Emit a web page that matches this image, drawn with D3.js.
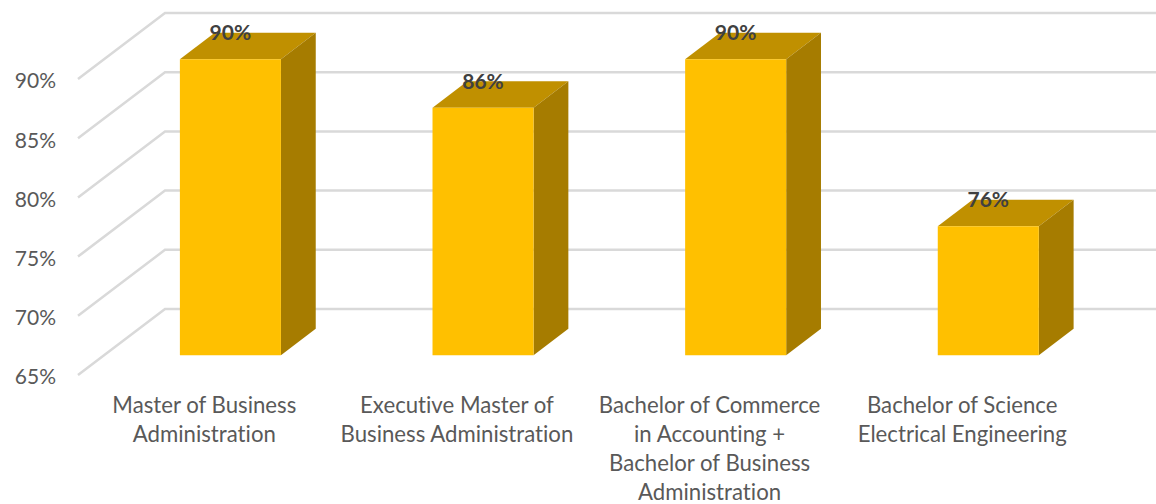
<!DOCTYPE html>
<html>
<head>
<meta charset="utf-8">
<script src="https://cdn.jsdelivr.net/npm/d3@7"></script>
<style>
  html, body { margin: 0; padding: 0; background: #fff; overflow: hidden; }
  text { font-family: Lato, "Open Sans", sans-serif; font-variant-ligatures: none; }
</style>
</head>
<body>
<script>
var categories = [
  "Master of Business Administration",
  "Executive Master of Business Administration",
  "Bachelor of Commerce in Accounting + Bachelor of Business Administration",
  "Bachelor of Science Electrical Engineering"
];
var categoryLines = [
  ["Master of Business", "Administration"],
  ["Executive Master of", "Business Administration"],
  ["Bachelor of Commerce", "in Accounting +", "Bachelor of Business", "Administration"],
  ["Bachelor of Science", "Electrical Engineering"]
];
var values = [90, 85.9, 90, 75.9];
var yTicks = [65, 70, 75, 80, 85, 90];

var width = 1156;
var height = 504;

// chart depth, the back wall sits up and to the right of the front plane
var depthX = 87;
var depthY = -66;
var barFront = 0.3;
var barBack = 0.7;

var x = d3.scaleBand().domain(categories).range([78, 1088.5]).paddingInner(0.6).paddingOuter(0.3);
var y = d3.scaleLinear().domain([65, 90]).range([375, 79]);

function project(px, py, t) {
  return [px + depthX * t, py + depthY * t];
}

function poly(points) {
  return points.map(function(p) { return p.join(","); }).join(" ");
}

var svg = d3.select("body").append("svg")
  .attr("width", width)
  .attr("height", height)
  .style("display", "block");

// gridlines, back wall + left wall
var grid = svg.append("g").attr("fill", "none").attr("stroke", "#D9D9D9").attr("stroke-width", 2.5);
grid.selectAll("polyline").data(yTicks).join("polyline")
  .attr("points", function(d) {
    var a = project(x.range()[0], y(d), 0);
    var b = project(x.range()[0], y(d), 1);
    return poly([a, b, [width, b[1]]]);
  });

// y axis
var yAxis = svg.append("g")
  .attr("transform", "translate(64,0)")
  .call(d3.axisLeft(y).tickValues(yTicks).tickSize(0).tickPadding(8).tickFormat(function(d) { return d + "%"; }));
yAxis.select(".domain").remove();
yAxis.selectAll("text")
  .attr("fill", "#595959")
  .style("font-family", "Lato, 'Open Sans', sans-serif")
  .style("font-size", "21px")
  .attr("dy", "0.42em");

// x axis, labels wrapped by hand like the original
var xAxis = svg.append("g")
  .attr("transform", "translate(0,382)")
  .call(d3.axisBottom(x).tickSize(0).tickPadding(0).tickFormat(""));
xAxis.select(".domain").remove();
xAxis.selectAll(".tick text")
  .attr("fill", "#595959")
  .attr("y", 0)
  .attr("dy", 0)
  .style("font-family", "Lato, 'Open Sans', sans-serif")
  .style("font-size", "22.2px")
  .each(function(d, i) {
    d3.select(this).selectAll("tspan").data(categoryLines[i]).join("tspan")
      .attr("x", 0)
      .attr("y", function(l, j) { return 31 + j * 29; })
      .text(function(l) { return l; });
  });

// bars
var bars = svg.selectAll("g.bar").data(values).join("g").attr("class", "bar");

function corners(d, i) {
  var left = x(categories[i]);
  var right = left + x.bandwidth();
  return {
    fl: project(left, y(d), barFront),
    fr: project(right, y(d), barFront),
    bl: project(left, y(d), barBack),
    br: project(right, y(d), barBack),
    flo: project(left, y(65), barFront),
    fro: project(right, y(65), barFront),
    bro: project(right, y(65), barBack)
  };
}

bars.append("polygon")
  .attr("fill", "#C09000")
  .attr("points", function(d, i) { var c = corners(d, i); return poly([c.fl, c.fr, c.br, c.bl]); });
bars.append("polygon")
  .attr("fill", "#A67C00")
  .attr("points", function(d, i) { var c = corners(d, i); return poly([c.fr, c.br, c.bro, c.fro]); });
bars.append("polygon")
  .attr("fill", "#FFC000")
  .attr("points", function(d, i) { var c = corners(d, i); return poly([c.fl, c.fr, c.fro, c.flo]); });

// data labels
bars.append("text")
  .attr("x", function(d, i) { return project(x(categories[i]) + x.bandwidth() / 2, y(d), barFront)[0]; })
  .attr("y", function(d, i) { return project(0, y(d), barFront)[1] - 19; })
  .attr("text-anchor", "middle")
  .attr("fill", "#404040")
  .style("font-size", "21px")
  .style("font-weight", "bold")
  .text(function(d) { return d3.format(".0f")(d) + "%"; });
</script>
</body>
</html>
